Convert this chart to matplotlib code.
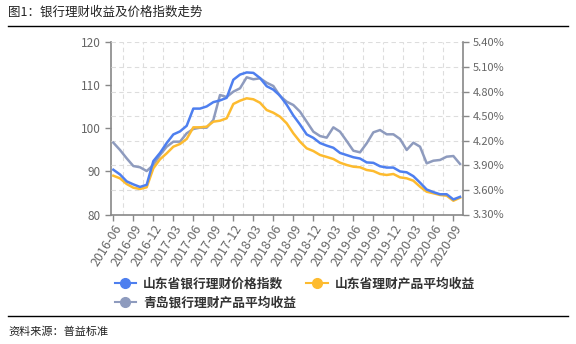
import matplotlib
matplotlib.use("Agg")
import matplotlib.pyplot as plt
from matplotlib.lines import Line2D
import numpy as np

plt.rcParams['font.family'] = ['Noto Sans CJK SC', 'DejaVu Sans']

# months 2016-06 .. 2020-10
months = []
y, m = 2016, 6
for _ in range(53):
    months.append(f"{y}-{m:02d}")
    m += 1
    if m > 12:
        m = 1
        y += 1

sd_price_index = [90.4, 89.3, 87.7, 87.0, 86.4, 86.9, 92.4, 94.3, 96.6, 98.6,
                  99.3, 100.6, 104.6, 104.6, 105.1, 106.1, 106.5, 107.1, 111.3, 112.5,
                  113.0, 112.9, 111.7, 109.8, 109.0, 107.6, 105.5, 103.0, 100.9, 98.6,
                  97.8, 96.6, 96.0, 95.5, 94.3, 93.8, 93.3, 93.0, 92.1, 92.0,
                  91.2, 90.9, 90.9, 90.0, 89.8, 88.9, 87.4, 85.8, 85.2, 84.7,
                  84.7, 83.5, 84.1]

sd_avg_yield = [3.773, 3.741, 3.672, 3.627, 3.611, 3.632, 3.863, 3.973, 4.046, 4.127,
                4.160, 4.221, 4.363, 4.363, 4.371, 4.432, 4.444, 4.473, 4.648, 4.688,
                4.717, 4.705, 4.663, 4.574, 4.541, 4.493, 4.412, 4.290, 4.188, 4.107,
                4.074, 4.026, 4.002, 3.977, 3.932, 3.904, 3.883, 3.876, 3.843, 3.830,
                3.794, 3.782, 3.794, 3.753, 3.741, 3.712, 3.639, 3.578, 3.559, 3.538,
                3.529, 3.468, 3.505]

qd_avg_yield = [4.176, 4.087, 3.985, 3.891, 3.876, 3.830, 3.904, 4.026, 4.127, 4.188,
                4.188, 4.290, 4.343, 4.359, 4.359, 4.452, 4.757, 4.733, 4.798, 4.839,
                4.973, 4.949, 4.961, 4.907, 4.867, 4.745, 4.676, 4.635, 4.554, 4.432,
                4.310, 4.257, 4.237, 4.363, 4.310, 4.196, 4.078, 4.058, 4.168, 4.302,
                4.330, 4.278, 4.278, 4.221, 4.087, 4.176, 4.127, 3.924, 3.956, 3.965,
                4.005, 4.013, 3.916]

left_ticks = [80, 90, 100, 110, 120]
right_ticks = [3.30, 3.60, 3.90, 4.20, 4.50, 4.80, 5.10, 5.40]
names = ["山东省银行理财价格指数", "山东省理财产品平均收益", "青岛银行理财产品平均收益"]

c_blue = "#4E7FEF"
c_yellow = "#FDBB2F"
c_grey = "#8E9BBE"
axis_col = "#888888"
txt_col = "#666666"

fig = plt.figure(figsize=(5.76, 3.44), dpi=100)
W, H = 576, 344
x0, x1, ytop, ybot = 111, 462.7, 42.3, 214.5
ax = fig.add_axes([x0 / W, 1 - ybot / H, (x1 - x0) / W, (ybot - ytop) / H])
ax2 = ax.twinx()

x = np.arange(len(months))
ax.set_xlim(-0.35, 52.4)
ax.set_ylim(80, 120)
ax2.set_ylim(3.30, 5.40)

# grid
for v in right_ticks[1:]:
    ax2.axhline(v, color="#dddddd", lw=0.8, ls=(0, (4, 3)), zorder=0)
for gx in np.arange(1.5, 52.4, 3):
    ax.axvline(gx, color="#dddddd", lw=0.8, ls=(0, (4, 3)), zorder=0)

ax2.plot(x, qd_avg_yield, color=c_grey, lw=1.8, zorder=3)
ax2.plot(x, sd_avg_yield, color=c_yellow, lw=1.8, zorder=4)
ax2.plot(x, sd_price_index, color=c_blue, lw=1.8, zorder=5, transform=ax.transData)

ax.set_yticks(left_ticks)
ax.set_yticklabels([str(v) for v in left_ticks])
ax2.set_yticks(right_ticks)
ax2.set_yticklabels([f"{v:.2f}%" for v in right_ticks])
ax.set_xticks(x[::3])
ax.set_xticklabels(months[::3], rotation=58, ha="right", rotation_mode="anchor")

for a in (ax, ax2):
    a.spines['top'].set_visible(False)
    for s in ('left', 'right', 'bottom'):
        a.spines[s].set_color(axis_col)
        a.spines[s].set_linewidth(1.2)
ax.spines['right'].set_visible(False)
ax2.spines['left'].set_visible(False)
ax2.spines['bottom'].set_visible(False)
ax.tick_params(axis='y', colors=axis_col, labelcolor=txt_col, labelsize=8.5, length=4, width=1)
ax.tick_params(axis='x', colors=axis_col, labelcolor=txt_col, labelsize=9, length=4, width=1, pad=2)
ax2.tick_params(axis='y', colors=axis_col, labelcolor=txt_col, labelsize=8, length=4, width=1)

handles = [
    Line2D([0], [0], color=c_blue, lw=1.5, marker='o', ms=7),
    Line2D([0], [0], color=c_grey, lw=1.5, marker='o', ms=7),
    Line2D([0], [0], color=c_yellow, lw=1.5, marker='o', ms=7),
]
labels = [names[0], names[2], names[1]]
fig.legend(handles, labels, ncol=2, loc="upper left", bbox_to_anchor=(103 / W, 1 - 266 / H),
           frameon=False, prop={'size': 9.2, 'weight': 'bold'}, handlelength=1.7,
           columnspacing=0.8, handletextpad=0.55, labelspacing=0.5, labelcolor="#333333")

fig.text(8 / W, 1 - 12 / H, "图1：银行理财收益及价格指数走势", fontsize=9, va="center", ha="left", color="#222222")
fig.add_artist(Line2D([8 / W, 568 / W], [1 - 26 / H, 1 - 26 / H], color="black", lw=1))
fig.add_artist(Line2D([8 / W, 568 / W], [1 - 316 / H, 1 - 316 / H], color="black", lw=1))
fig.text(8 / W, 1 - 332 / H, "资料来源：普益标准", fontsize=8, va="center", ha="left", color="#222222")

fig.savefig("out.png", dpi=100)
